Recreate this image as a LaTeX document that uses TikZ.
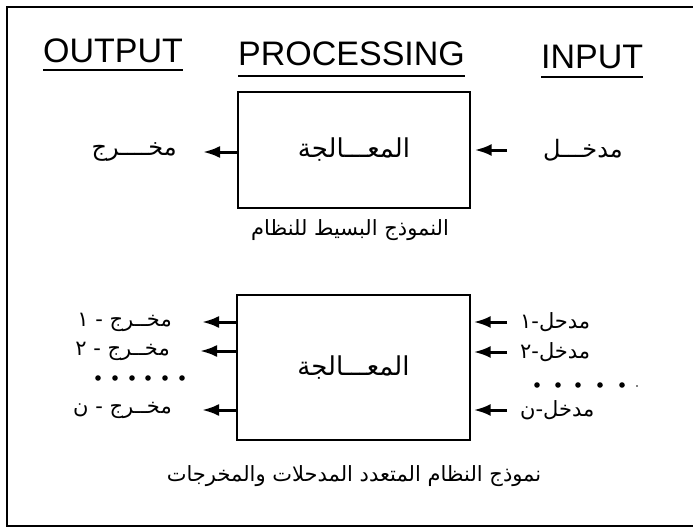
\documentclass[tikz,border=0pt]{standalone}
\usepackage{fontspec}
\setmainfont{Liberation Sans}
\newfontfamily\arabicfont[Script=Arabic]{DejaVu Sans}
\TeXXeTstate=1
\usetikzlibrary{arrows.meta}
\begin{document}
\begin{tikzpicture}[x=1pt,y=-1pt,
  hdr/.style={inner sep=0pt, anchor=base west, font=\fontsize{34}{36}\selectfont},
  ar/.style={inner sep=0pt, font=\arabicfont\fontsize{24}{28}\selectfont},
  arsm/.style={inner sep=0pt, font=\arabicfont\fontsize{21}{24}\selectfont},
  arcap/.style={inner sep=0pt, font=\arabicfont\fontsize{21}{24}\selectfont},
  procbox/.style={draw, line width=1.3pt, inner sep=0pt, font=\arabicfont\fontsize{26}{30}\selectfont},
  arr/.style={line width=3pt, -{Latex[length=17pt,width=12pt]}},
  uline/.style={line width=1.4pt},
  frame/.style={line width=1.4pt}]
\useasboundingbox (0,0) rectangle (693,530);
\draw[frame] (693,7) -- (7,7) -- (7,526) -- (693,526);

% headers
\node[hdr] (hout) at (43,62) {OUTPUT};
\node[hdr] (hproc) at (238,65) {PROCESSING};
\node[hdr] (hin) at (541,68) {INPUT};
\draw[uline] ([yshift=-8pt]hout.base west) -- ([yshift=-8pt]hout.base east);
\draw[uline] ([yshift=-11pt]hproc.base west) -- ([yshift=-11pt]hproc.base east);
\draw[uline] ([yshift=-9pt]hin.base west) -- ([yshift=-9pt]hin.base east);

% simple model
\node[procbox, minimum width=232pt, minimum height=116pt] (p1) at (354,150) {\beginR المعـــالجة\endR};
\node[ar, anchor=east] (o0) at (177,152) {\beginR مخــــرج\endR};
\node[ar, anchor=west] (i0) at (543,150) {\beginR مدخـــل\endR};
\node[arcap] (cap1) at (350,230) {\beginR النموذج البسيط للنظام\endR};
\draw[arr, shorten >=26pt] (o0.east -| p1.west) -- (o0.east);
\draw[arr, shorten <=36pt, shorten >=4pt] (i0.west) -- (i0.west -| p1.east);

% multiple model
\node[procbox, minimum width=233pt, minimum height=145pt] (p2) at (353.5,367.5) {\beginR المعـــالجة\endR};
\node[arsm, anchor=east] (o1) at (172,322) {\beginR مخــرج - ١\endR};
\node[arsm, anchor=east] (o2) at (170,351) {\beginR مخــرج - ٢\endR};
\node[arsm, anchor=east] (o3) at (172,410) {\beginR مخــرج - ن\endR};
\node[arsm, anchor=west] (i1) at (520,322) {\beginR مدحل-١\endR};
\node[arsm, anchor=west] (i2) at (520,352) {\beginR مدخل-٢\endR};
\node[arsm, anchor=west] (i3) at (520,410) {\beginR مدخل-ن\endR};
\foreach \o in {o1,o2,o3}
  \draw[arr, shorten >=30pt] (\o.east -| p2.west) -- (\o.east);
\foreach \i in {i1,i2,i3}
  \draw[arr, shorten <=13pt, shorten >=3pt] (\i.west) -- (\i.west -| p2.east);
\foreach \x in {98,115,132,148,165,182}
  \fill (\x,378) circle (2.8pt);
\foreach \x in {537,558,578,600,622}
  \fill (\x,385) circle (2.8pt);
\fill (637,386) circle (0.9pt);
\node[arcap] (cap2) at (354,476) {\beginR نموذج النظام المتعدد المدحلات والمخرجات\endR};
\end{tikzpicture}
\end{document}
